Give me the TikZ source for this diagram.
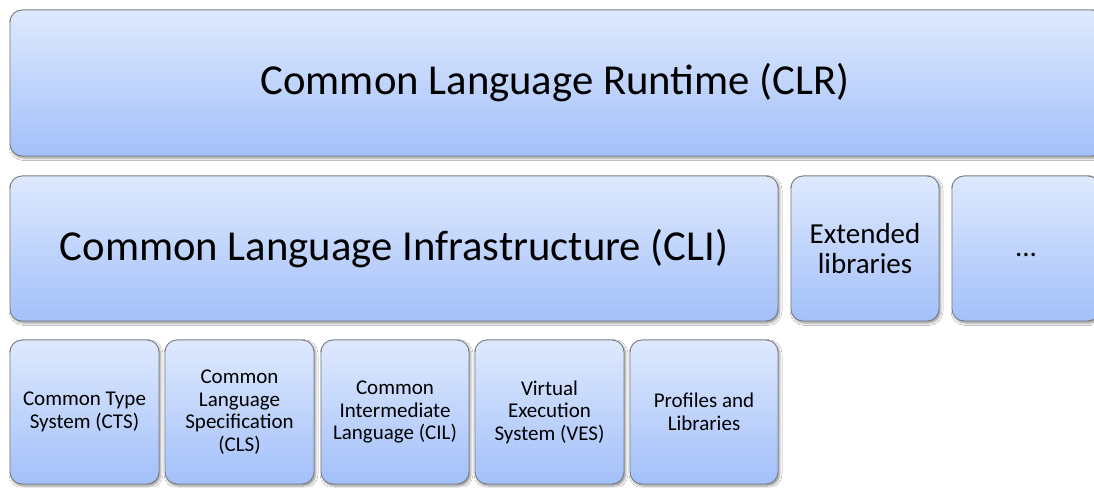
\documentclass[tikz,border=0pt]{standalone}
\usepackage{fontspec}
\setmainfont{Carlito}
\usetikzlibrary{shadows.blur}
\definecolor{boxtop}{RGB}{222,233,253}
\definecolor{boxbot}{RGB}{163,192,250}
\definecolor{boxline}{RGB}{120,124,130}
\tikzset{
  blk/.style={draw=boxline, line width=0.9pt, rounded corners=12pt,
    top color=boxtop, bottom color=boxbot, align=center, inner sep=0pt,
    blur shadow={shadow xshift=1.5pt, shadow yshift=-2pt, shadow blur radius=2.5pt, shadow opacity=45},
    font=\fontsize{21}{22.5}\selectfont},
  bigtxt/.style={font=\fontsize{42.7}{46}\selectfont},
  midtxt/.style={font=\fontsize{29}{30.5}\selectfont},
}
\begin{document}
\begin{tikzpicture}[x=1pt,y=-1pt]
\useasboundingbox (0,0) rectangle (1094,487);
\fill[white] (0,0) rectangle (1094,487);
\clip (0,0) rectangle (1094,487);
\node[blk, bigtxt, minimum width=1094pt, minimum height=146pt] (clr) at (557,83) {\hspace*{-4pt}Common Language Runtime (CLR)};
\node[blk, bigtxt, minimum width=768pt, minimum height=145pt] (cli) at (394,248.5) {Common Language Infrastructure (CLI)};
\node[blk, midtxt, minimum width=148pt, minimum height=145pt] (ext) at (865,248.5) {Extended\\libraries};
\node[blk, midtxt, minimum width=148pt, minimum height=145pt] (more) at (1026,248.5) {\rule{0pt}{17pt}...};
\node[blk, minimum width=149pt, minimum height=144pt] (cts) at (84.5,412) {Common Type\\System (CTS)};
\node[blk, minimum width=149pt, minimum height=144pt] (cls) at (239.5,412) {Common\\Language\\Specification\\(CLS)};
\node[blk, minimum width=148pt, minimum height=144pt] (cil) at (395,412) {Common\\Intermediate\\Language (CIL)};
\node[blk, minimum width=149pt, minimum height=144pt] (ves) at (549.5,412) {Virtual\\Execution\\System (VES)};
\node[blk, minimum width=148pt, minimum height=144pt] (pro) at (704,412) {Profiles and\\Libraries};
\end{tikzpicture}
\end{document}
